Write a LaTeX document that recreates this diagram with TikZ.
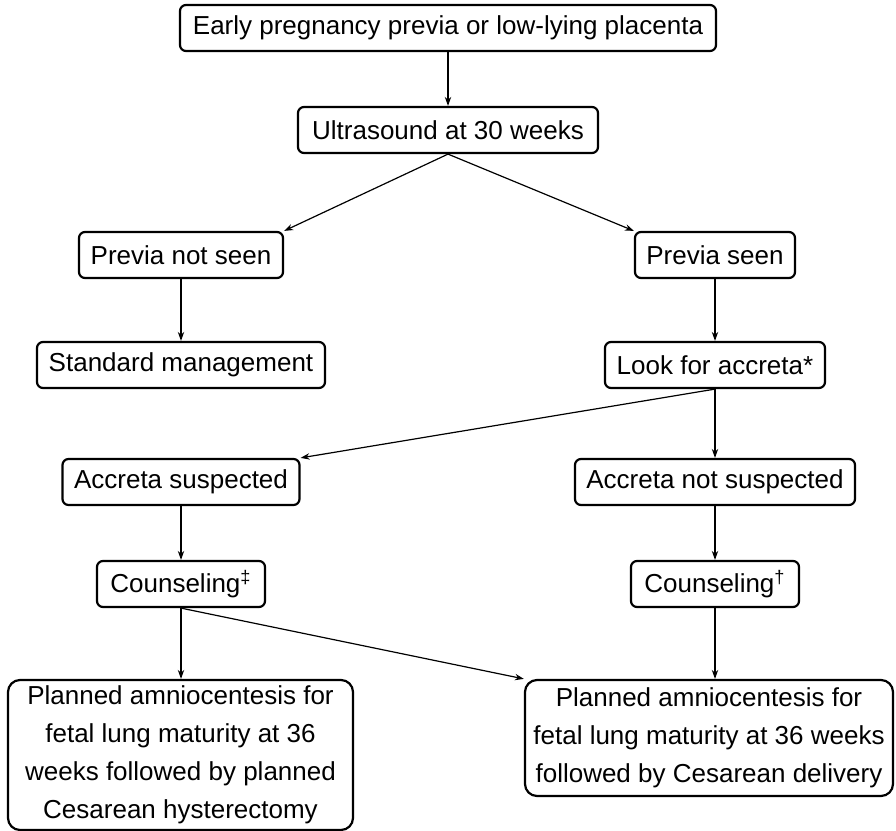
\documentclass[tikz,border=0pt]{standalone}
\usepackage{fontspec}
\setmainfont{Liberation Sans}
\usetikzlibrary{arrows.meta}
\begin{document}
\begin{tikzpicture}[x=0.5pt,y=-0.5pt,
    box/.style={draw, line width=1.1pt, rounded corners=3pt, align=center, inner sep=0pt,
        minimum height=23pt, font=\fontsize{13}{19}\selectfont},
    arr/.style={-{Stealth[length=4.5pt,width=3.2pt]}, line width=0.6pt}]
    \useasboundingbox (0,0) rectangle (896,831);
    % top of the chart
    \node[box, minimum width=268pt] (early) at (448,28) {Early pregnancy previa or low-lying placenta};
    \node[box, minimum width=150pt] (ultra) at (448,130) {Ultrasound at 30 weeks};
    % ultrasound result
    \node[box, minimum width=102pt] (notseen) at (181,255) {Previa not seen};
    \node[box, minimum width=80pt] (seen) at (715,255) {Previa seen};
    \node[box, minimum width=144pt] (standard) at (181,365) {Standard management};
    \node[box, minimum width=110pt] (look) at (715,365) {Look for accreta*};
    % accreta
    \node[box, minimum width=118.5pt] (susp) at (181,482) {Accreta suspected};
    \node[box, minimum width=140pt] (notsusp) at (715,482) {Accreta not suspected};
    \node[box, minimum width=84pt] (counsA) at (181,584) {Counseling\textsuperscript{‡}};
    \node[box, minimum width=84pt] (counsB) at (715,584) {Counseling\textsuperscript{†}};
    % delivery plans
    \node[box, minimum width=172.5pt, minimum height=75pt, rounded corners=6pt] (planA) at (180.5,755)
        {Planned amniocentesis for\\fetal lung maturity at 36\\weeks followed by planned\\Cesarean hysterectomy};
    \node[box, minimum width=184pt, minimum height=58pt, rounded corners=6pt] (planB) at (709,738)
        {Planned amniocentesis for\\fetal lung maturity at 36 weeks\\followed by Cesarean delivery};
    % connectors
    \draw[arr] (early) -- (ultra);
    \draw[arr] (ultra.south) -- (notseen.north east);
    \draw[arr] (ultra.south) -- (seen.north west);
    \draw[arr] (notseen) -- (standard);
    \draw[arr] (seen) -- (look);
    \draw[arr] (look.south) -- (susp.north east);
    \draw[arr] (look) -- (notsusp);
    \draw[arr] (susp) -- (counsA);
    \draw[arr] (notsusp) -- (counsB);
    \draw[arr] (counsA.south) -- (counsA.south |- planA.north);
    \draw[arr] (counsA.south) -- (planB.north west);
    \draw[arr] (counsB.south) -- (counsB.south |- planB.north);
\end{tikzpicture}
\end{document}
